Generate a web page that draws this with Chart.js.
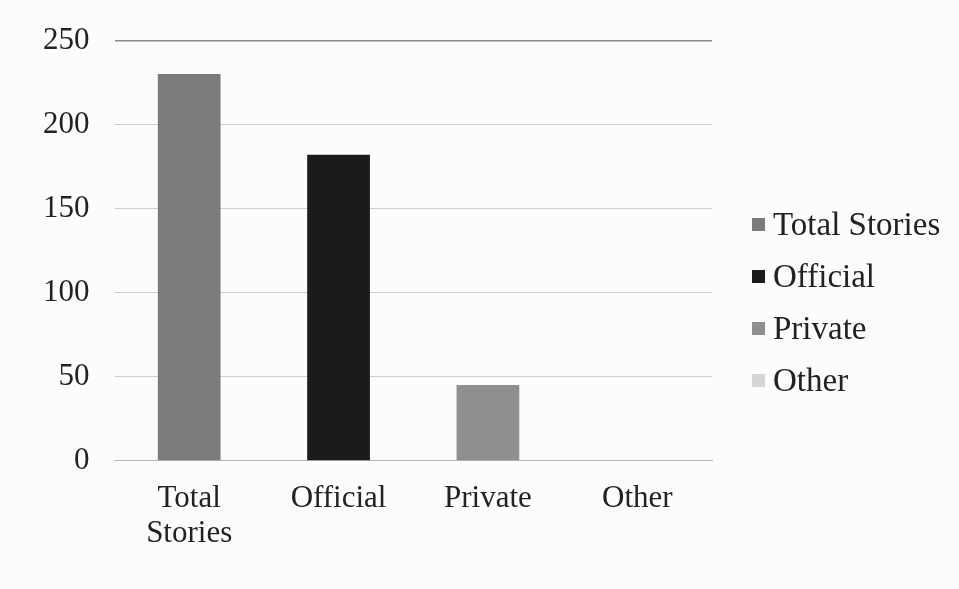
<!DOCTYPE html>
<html>
<head>
<meta charset="utf-8">
<script src="https://cdn.jsdelivr.net/npm/chart.js@4"></script>
<style>
  html, body { margin: 0; padding: 0; background: #fcfcfc; }
  #wrap { width: 959px; height: 589px; position: relative; }
</style>
</head>
<body>
<div id="wrap"><canvas id="c" width="959" height="589"></canvas></div>
<script>
// Story counts by source type
const categories = [["Total", "Stories"], "Official", "Private", "Other"];
const legendNames = ["Total Stories", "Official", "Private", "Other"];
const storyCounts = [230, 182, 45, 0];
const yTicks = [0, 50, 100, 150, 200, 250];
const barColors = ["#7b7b7b", "#1b1b1b", "#8f8f8f", "#d6d6d6"];

const serif = "'Liberation Serif', 'DejaVu Serif', serif";

// Legend column drawn to the right of the plot area, one row per category
const sideLegend = {
  id: "sideLegend",
  afterDraw(chart) {
    const ctx = chart.ctx;
    const area = chart.chartArea;
    const x0 = area.right + 40;
    const rowGap = 52;
    const firstY = 225;
    ctx.save();
    ctx.font = "33px " + serif;
    ctx.textBaseline = "middle";
    ctx.textAlign = "left";
    legendNames.forEach((name, i) => {
      const y = firstY + i * rowGap;
      ctx.fillStyle = barColors[i];
      ctx.fillRect(x0, y - 7, 13, 13);
      ctx.fillStyle = "#222";
      ctx.fillText(name, x0 + 21, y + 1);
    });
    ctx.restore();
  }
};

new Chart(document.getElementById("c"), {
  type: "bar",
  data: {
    labels: categories,
    datasets: [{
      label: "Stories",
      data: storyCounts,
      backgroundColor: barColors,
      borderWidth: 0,
      barPercentage: 0.42,
      categoryPercentage: 1.0
    }]
  },
  options: {
    responsive: false,
    animation: false,
    layout: { padding: { left: 18, right: 247, top: 11, bottom: 25 } },
    plugins: {
      tooltip: { enabled: false },
      legend: { display: false }
    },
    scales: {
      x: {
        grid: { display: false },
        border: { display: true, color: "#b8b8b8", width: 1 },
        ticks: {
          font: { family: serif, size: 31, lineHeight: 1.15 },
          color: "#222",
          padding: 12,
          maxRotation: 0
        }
      },
      y: {
        min: 0,
        max: 250,
        afterBuildTicks: (axis) => { axis.ticks = yTicks.map(v => ({ value: v })); },
        border: { display: false },
        grid: {
          drawTicks: false,
          color: (ctx) => ctx.tick && ctx.tick.value === 250 ? "#8a8a8a" : "#cdcdcd",
          lineWidth: (ctx) => ctx.tick && ctx.tick.value === 250 ? 1.5 : 1
        },
        ticks: {
          font: { family: serif, size: 31, lineHeight: 1.0 },
          color: "#222",
          padding: 25
        }
      }
    }
  },
  plugins: [sideLegend]
});
</script>
</body>
</html>
